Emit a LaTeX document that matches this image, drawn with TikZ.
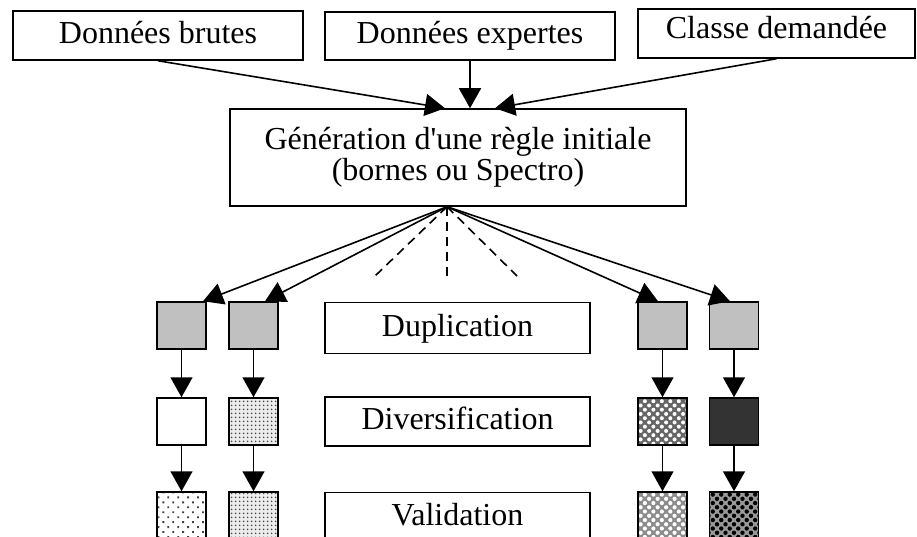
\documentclass[tikz,border=0pt]{standalone}
\usepackage{fontspec}
\setmainfont{Liberation Serif}
\usetikzlibrary{arrows.meta,patterns.meta}
\definecolor{silver}{RGB}{192,192,192}
\definecolor{charcoal}{RGB}{51,51,51}
\tikzset{
  box/.style={draw, line width=1.5pt, rectangle, inner sep=0pt, align=center,
    font=\fontsize{32}{31}\selectfont},
  onerow/.style={text height=22pt, text depth=6pt},
  cell/.style={draw, line width=1.5pt, rectangle, inner sep=0pt,
    minimum width=49pt, minimum height=47pt},
  link/.style={line width=1.6pt, -{Triangle[length=20pt,width=22pt]}},
  ghost/.style={line width=1.6pt, dash pattern=on 9pt off 6pt},
  finedots/.style={preaction={fill=gray!15}, pattern={Dots[distance=4pt,radius=1.2pt]}, pattern color=black!70},
  sparsedots/.style={pattern={Dots[distance=7pt,radius=1.3pt,angle=45]}, pattern color=black!75},
  lightcheck/.style={preaction={fill=black!60}, pattern={Dots[distance=6pt,radius=2pt,angle=45]}, pattern color=white},
  palecheck/.style={preaction={fill=black!45}, pattern={Dots[distance=6pt,radius=2.1pt,angle=45]}, pattern color=white},
  darkcheck/.style={preaction={fill=black!40}, pattern={Dots[distance=6pt,radius=2.2pt,angle=45]}, pattern color=black},
}
\begin{document}
\begin{tikzpicture}[x=1pt,y=-1pt]
\useasboundingbox (0,0) rectangle (917,537);
\clip (0,0) rectangle (917,537);

% inputs
\node[box, onerow, minimum width=290pt, minimum height=49pt] (b1) at (158,35.5) {Données brutes};
\node[box, onerow, minimum width=290pt, minimum height=48pt] (b2) at (470,36) {Données expertes};
\node[box, text height=22pt, text depth=11pt, minimum width=277pt, minimum height=49pt] (b3) at (776.5,33.5) {Classe demandée};

% initial rule
\node[box, minimum width=456pt, minimum height=97pt] (gen) at (458,157.5)
  {Génération d\textquotesingle une règle initiale\\(bornes ou Spectro)};

% stage labels
\node[box, onerow, minimum width=265pt, minimum height=51pt] (dup) at (457.5,328) {Duplication};
\node[box, onerow, minimum width=265pt, minimum height=49pt] (div) at (457.5,421.5) {Diversification};
\node[box, onerow, minimum width=265pt, minimum height=49pt] (val) at (457.5,517) {Validation};

% rule copies: duplication row
\node[cell, fill=silver] (s11) at (181.5,325.5) {};
\node[cell, fill=silver] (s12) at (253.5,325.5) {};
\node[cell, fill=silver] (s13) at (662.5,325.5) {};
\node[cell, fill=silver] (s14) at (734,325.5) {};
% diversification row
\node[cell, fill=white] (s21) at (181.5,421.5) {};
\node[cell, finedots] (s22) at (253.5,421.5) {};
\node[cell, lightcheck] (s23) at (662.5,421.5) {};
\node[cell, fill=charcoal] (s24) at (734,421.5) {};
% validation row
\node[cell, sparsedots] (s31) at (181.5,515.5) {};
\node[cell, finedots] (s32) at (253.5,515.5) {};
\node[cell, palecheck] (s33) at (662.5,515.5) {};
\node[cell, darkcheck] (s34) at (734,515.5) {};

% inputs into the initial rule
\draw[link] (b1.south) -- ([xshift=-13pt]gen.north);
\draw[link] (b2.south) -- (b2.south |- gen.north);
\draw[link] (b3.south) -- ([xshift=37pt]gen.north);

% fan out to the copies
\coordinate (apex) at ([xshift=-11pt]gen.south);
\draw[link] (apex) -- ([xshift=21.5pt]s11.north);
\draw[link] (apex) -- ([xshift=11.5pt]s12.north);
\draw[link] (apex) -- ([xshift=-4.5pt]s13.north);
\draw[link] (apex) -- ([xshift=-4pt]s14.north);

% elided copies
\coordinate (d1) at (375,276);
\coordinate (d2) at (447,278);
\coordinate (d3) at (517,276);
\draw[ghost] (apex) -- (d1);
\draw[ghost] (apex) -- (d2);
\draw[ghost] (apex) -- (d3);

% per-copy flow
\foreach \c in {1,2,3,4}{
  \draw[link] (s1\c.south) -- (s2\c.north);
  \draw[link] (s2\c.south) -- (s3\c.north);
}
\end{tikzpicture}
\end{document}
